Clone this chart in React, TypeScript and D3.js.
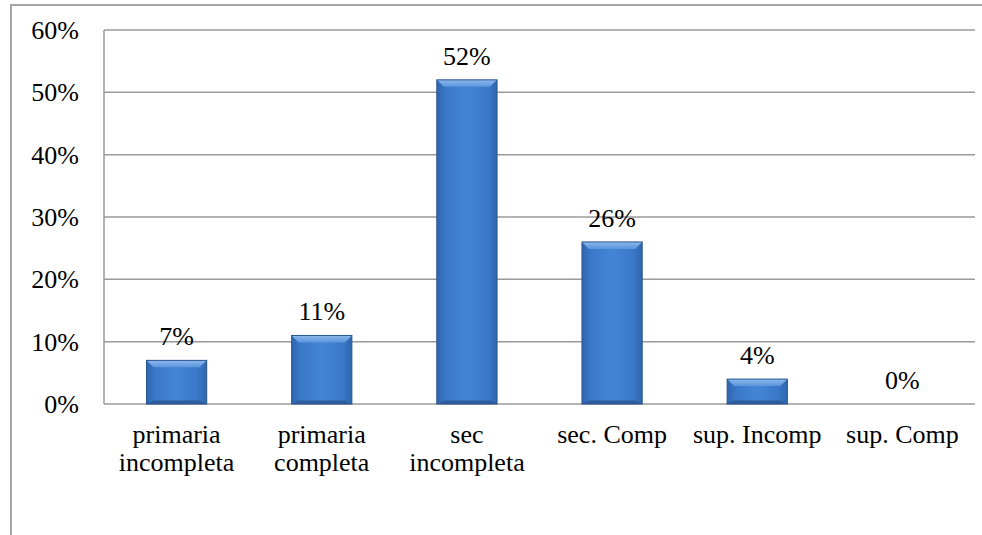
import React from "react";
import * as d3 from "d3";

const categories: string[][] = [
  ["primaria", "incompleta"],
  ["primaria", "completa"],
  ["sec", "incompleta"],
  ["sec. Comp"],
  ["sup. Incomp"],
  ["sup. Comp"],
];
const values: number[] = [7, 11, 52, 26, 4, 0];
const yTicks: number[] = [0, 10, 20, 30, 40, 50, 60];

const W = 982;
const H = 535;
const margin = { left: 104, right: 7, top: 30, bottom: 131 };

export default function App() {
  const x = d3
    .scaleBand<number>()
    .domain(values.map((_, i) => i))
    .range([margin.left, W - margin.right])
    .paddingInner(0.585)
    .paddingOuter(0.2925);
  const y = d3.scaleLinear().domain([0, 60]).range([H - margin.bottom, margin.top]);
  const font = "'Liberation Serif', 'Times New Roman', serif";
  const fs = 26;
  const bw = x.bandwidth();
  const bev = 7;

  return (
    <div style={{ position: "fixed", left: 0, top: 0 }}>
      <svg width={W} height={H} style={{ display: "block", background: "#fff" }}>
        <defs>
          <linearGradient id="barG" x1="0" x2="1" y1="0" y2="0">
            <stop offset="0" stopColor="#2f66ad" />
            <stop offset="0.15" stopColor="#3a78c8" />
            <stop offset="0.5" stopColor="#4486d6" />
            <stop offset="0.85" stopColor="#3a78c8" />
            <stop offset="1" stopColor="#2f66ad" />
          </linearGradient>
          <linearGradient id="topG" x1="0" x2="0" y1="0" y2="1">
            <stop offset="0" stopColor="#8db8ec" />
            <stop offset="1" stopColor="#5a95dc" />
          </linearGradient>
        </defs>
        {/* outer frame */}
        <rect x={11} y={5} width={W} height={H} fill="none" stroke="#a6a6a6" strokeWidth={2} />
        {/* gridlines */}
        {yTicks.map((t) => (
          <line
            key={t}
            x1={margin.left}
            x2={W - margin.right}
            y1={y(t)}
            y2={y(t)}
            stroke="#9a9a9a"
            strokeWidth={1.5}
          />
        ))}
        <line x1={margin.left} x2={margin.left} y1={y(60)} y2={y(0)} stroke="#9a9a9a" strokeWidth={1.5} />
        {yTicks.map((t) => (
          <text
            key={t}
            x={79}
            y={y(t)}
            dy="0.35em"
            textAnchor="end"
            fontFamily={font}
            fontSize={fs}
            fill="#000"
          >
            {t}%
          </text>
        ))}
        {values.map((v, i) => {
          const x0 = x(i)!;
          const y0 = y(v);
          const y1 = y(0);
          const h = y1 - y0;
          const b = Math.min(bev, h / 2);
          return (
            <g key={i}>
              {h > 0 && (
                <g>
                  <rect x={x0} y={y0} width={bw} height={h} fill="url(#barG)" />
                  <polygon
                    points={`${x0},${y0} ${x0 + bw},${y0} ${x0 + bw - b},${y0 + b} ${x0 + b},${y0 + b}`}
                    fill="url(#topG)"
                  />
                  <polygon
                    points={`${x0},${y1} ${x0 + bw},${y1} ${x0 + bw - b},${y1 - b * 0.5} ${x0 + b},${y1 - b * 0.5}`}
                    fill="#2c5d9c"
                  />
                  <rect x={x0} y={y0} width={bw} height={h} fill="none" stroke="#2a5590" strokeWidth={1} />
                </g>
              )}
              <text
                x={x0 + bw / 2}
                y={y0 - 15}
                textAnchor="middle"
                fontFamily={font}
                fontSize={fs}
                fill="#000"
              >
                {v}%
              </text>
              {categories[i].map((line, j) => (
                <text
                  key={j}
                  x={x0 + bw / 2}
                  y={443 + j * 27.5}
                  textAnchor="middle"
                  fontFamily={font}
                  fontSize={fs}
                  fill="#000"
                >
                  {line}
                </text>
              ))}
            </g>
          );
        })}
      </svg>
    </div>
  );
}
